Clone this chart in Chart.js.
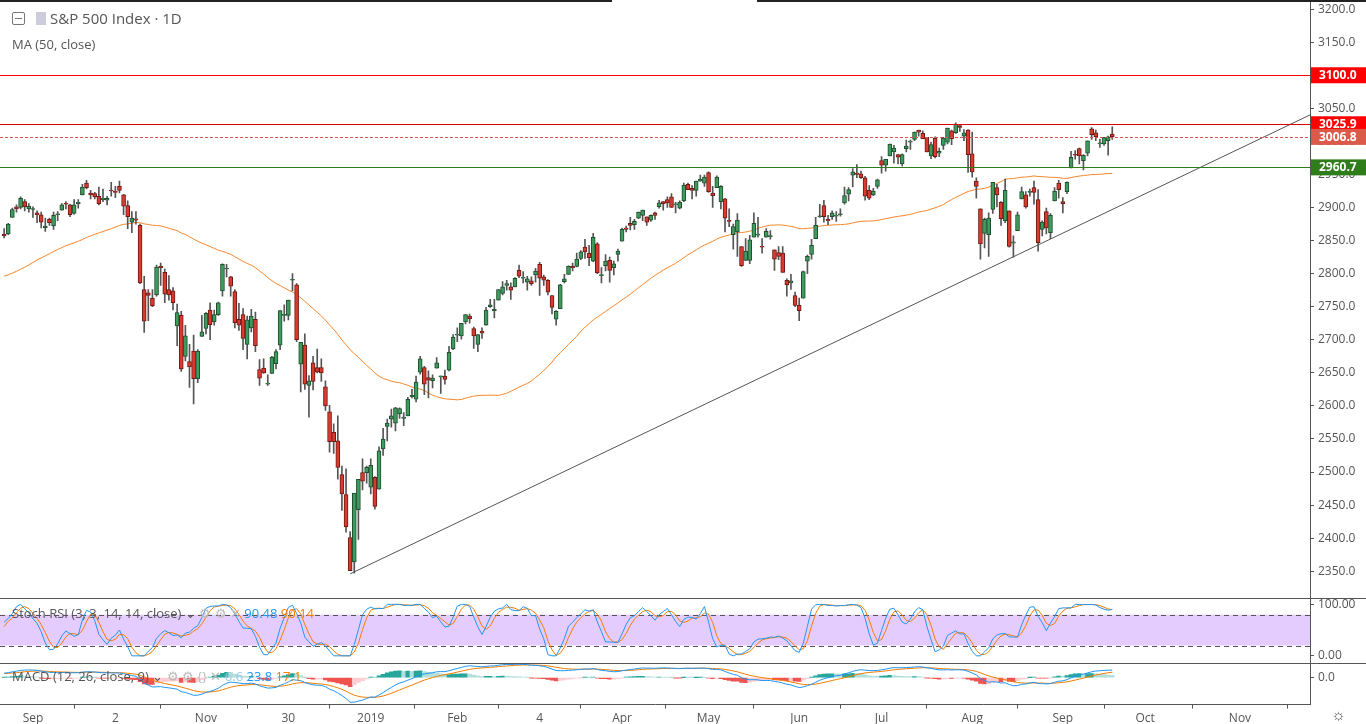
<!DOCTYPE html>
<html><head><meta charset="utf-8">
<script src="https://cdn.jsdelivr.net/npm/chart.js@4"></script>
<style>
body{margin:0;background:#fff;font-family:"Open Sans",sans-serif;overflow:hidden}
#wrap{position:relative;width:1366px;height:724px;overflow:hidden}
canvas{position:absolute;left:0}
.t{position:absolute;white-space:nowrap;color:#555}
</style></head><body>
<div id="wrap">
<canvas id="main" width="1366" height="620" style="top:-10px"></canvas>
<canvas id="stoch" width="1366" height="88" style="top:587px"></canvas>
<canvas id="macd" width="1366" height="77" style="top:652px"></canvas>
<div style="position:absolute;left:0;top:0;width:612px;height:2px;background:#222"></div>
<div style="position:absolute;left:757px;top:0;width:609px;height:2px;background:#222"></div>
<div style="position:absolute;left:12px;top:12px;width:11px;height:11px;border:1px solid #777;border-radius:2px"></div>
<div style="position:absolute;left:15px;top:18px;width:7px;height:1px;background:#777"></div>
<div style="position:absolute;left:36px;top:12px;width:10px;height:13px;background:#ccd"></div>
<div class="t" style="left:50px;top:8px;font-size:15px">S&amp;P 500 Index · 1D</div>
<div class="t" style="left:12px;top:35px;font-size:13px">MA (50, close)</div>
<div class="t" style="left:12px;top:604px;font-size:13px">Stoch RSI (3, 3, 14, 14, close) ⌄ <span style="color:#bbb">⚙ ⚙ ✕</span> <span style="color:#2196f3">90.48</span> <span style="color:#f57c00">90.14</span></div>
<div class="t" style="left:12px;top:667px;font-size:13px">MACD (12, 26, close, 9) ⌄ <span style="color:#bbb">⚙ ⚙ {} ✕</span> <span style="color:#9cc8e6">6.6</span> <span style="color:#2196f3">23.8</span> <span style="color:#f57c00">17.1</span></div>
<div class="t" style="left:1331px;top:703px;font-size:16px">☼</div>
</div>
<script>
// history before first visible bar (closes only, used for indicators)
const preCloses=[2775,2782,2779,2774,2762,2767,2749,2754,2717,2724,2700,2716,2718,2727,2714,2736,2760,2759,2784,2794,2793,2798,2775,2798,2801,2798,2804,2809,2815,2804,2806,2820,2846,2837,2819,2818,2802,2816,2813,2827,2840,2850,2858,2858,2819,2840,2818,2822,2821,2850,2858,2862];
// visible daily bars [open, high, low, close], 2018-08-23 .. 2019-09-19
const ohlc=[
[2860,2868,2854,2857],[2860,2876,2859,2875],[2885,2899,2885,2897],[2901,2904,2893,2898],[2900,2916,2898,2914],[2909,2912,2895,2901],[2898,2906,2893,2902],
[2897,2901,2885,2897],[2892,2895,2877,2889],[2889,2893,2869,2878],[2869,2884,2864,2872],[2882,2884,2873,2877],[2872,2893,2867,2888],[2889,2894,2880,2889],[2896,2906,2896,2904],[2906,2909,2898,2905],[2904,2905,2886,2889],[2891,2912,2890,2904],[2906,2912,2899,2908],[2919,2935,2919,2931],[2937,2941,2928,2930],[2922,2926,2913,2919],[2921,2923,2913,2916],[2917,2931,2904,2906],[2912,2928,2909,2914],[2911,2917,2904,2914],
[2926,2938,2917,2925],[2924,2932,2915,2923],[2932,2940,2922,2926],[2919,2920,2889,2902],[2903,2910,2868,2886],[2878,2894,2862,2884],[2883,2894,2875,2881],[2873,2875,2785,2786],[2776,2796,2711,2728],[2771,2776,2729,2767],[2763,2776,2750,2751],[2768,2813,2766,2810],[2811,2816,2782,2809],[2802,2807,2756,2769],[2776,2797,2760,2768],[2774,2779,2745,2756],[2721,2754,2691,2741],[2737,2743,2652,2656],[2675,2722,2668,2706],[2667,2693,2628,2659],[2683,2707,2603,2641],[2641,2685,2635,2683],[2705,2737,2705,2712],
[2717,2741,2709,2740],[2745,2756,2700,2723],[2727,2745,2722,2738],[2738,2757,2737,2756],[2774,2815,2766,2814],[2807,2814,2795,2807],[2795,2796,2766,2781],[2773,2776,2718,2726],[2731,2755,2714,2722],[2738,2747,2685,2702],[2693,2736,2671,2730],[2718,2746,2712,2736],[2731,2742,2682,2691],[2655,2670,2631,2642],[2657,2671,2649,2650],[2633,2647,2631,2633],[2649,2675,2649,2674],[2664,2685,2656,2682],[2692,2744,2685,2744],[2737,2753,2728,2738],[2737,2760,2730,2760],
[2790,2800,2774,2790],[2783,2785,2697,2700],[2663,2696,2621,2696],[2692,2709,2625,2633],[2631,2646,2583,2638],[2665,2675,2624,2637],[2658,2686,2650,2651],[2658,2671,2637,2650],[2629,2638,2593,2600],[2591,2601,2530,2546],[2560,2573,2528,2546],[2547,2585,2489,2507],[2496,2509,2442,2467],[2466,2505,2409,2417],[2401,2410,2351,2351],[2364,2467,2347,2468],[2443,2489,2398,2489],[2499,2520,2473,2486],[2499,2509,2483,2507],
[2477,2520,2467,2510],[2492,2493,2444,2448],[2474,2538,2474,2532],[2535,2566,2525,2550],[2569,2580,2547,2574],[2580,2595,2568,2585],[2574,2598,2562,2597],[2588,2597,2581,2596],[2581,2590,2570,2583],[2585,2613,2585,2610],[2614,2625,2612,2616],[2610,2645,2606,2636],[2651,2675,2648,2671],[2658,2660,2617,2633],[2643,2653,2612,2639],[2638,2647,2627,2642],[2657,2673,2657,2665],[2644,2645,2619,2644],[2645,2654,2633,2640],[2654,2690,2653,2681],[2686,2708,2685,2704],
[2707,2718,2697,2707],[2706,2725,2701,2725],[2727,2738,2724,2738],[2736,2739,2725,2732],[2717,2719,2687,2706],[2693,2708,2682,2708],[2713,2718,2702,2710],[2722,2749,2722,2745],[2750,2761,2749,2753],[2744,2761,2733,2746],[2760,2776,2760,2776],[2770,2788,2768,2780],[2782,2790,2775,2785],[2780,2786,2761,2775],[2780,2794,2780,2793],[2805,2813,2794,2796],[2793,2803,2786,2794],[2787,2796,2775,2792],[2789,2795,2782,2785],
[2798,2808,2787,2804],[2814,2817,2767,2793],[2795,2798,2782,2790],[2790,2791,2768,2772],[2767,2767,2739,2749],[2731,2744,2722,2743],[2747,2784,2747,2783],[2788,2799,2786,2792],[2799,2812,2799,2811],[2811,2816,2804,2809],[2811,2831,2810,2822],[2823,2835,2821,2833],[2840,2852,2823,2833],[2831,2843,2812,2824],[2819,2861,2818,2855],[2845,2847,2800,2801],[2797,2809,2786,2798],[2812,2829,2804,2819],[2820,2825,2787,2805],[2809,2819,2798,2815],[2829,2837,2819,2834],
[2849,2869,2849,2867],[2869,2872,2863,2867],[2876,2885,2866,2873],[2874,2882,2867,2879],[2884,2893,2883,2893],[2888,2896,2880,2896],[2886,2886,2873,2878],[2881,2889,2879,2888],[2892,2893,2882,2888],[2901,2911,2899,2907],[2909,2909,2896,2906],[2912,2916,2900,2907],[2916,2921,2900,2900],[2904,2908,2892,2905],[2899,2910,2898,2908],[2910,2937,2909,2934],[2935,2937,2927,2927],[2929,2933,2913,2926],[2926,2940,2917,2940],[2940,2949,2940,2943],[2937,2949,2932,2946],
[2953,2954,2923,2924],[2922,2932,2900,2918],[2930,2948,2930,2946],[2909,2933,2898,2932],[2913,2914,2863,2884],[2880,2898,2871,2879],[2859,2875,2837,2871],[2863,2891,2826,2881],[2841,2841,2811,2812],[2820,2853,2820,2834],[2820,2858,2815,2851],[2855,2892,2855,2876],[2858,2885,2855,2860],[2841,2853,2831,2840],[2855,2868,2855,2864],[2856,2865,2852,2856],[2836,2836,2805,2822],[2832,2841,2821,2826],[2831,2841,2802,2802],[2790,2792,2766,2783],[2786,2799,2776,2789],[2767,2772,2750,2752],
[2752,2763,2729,2744],[2763,2804,2763,2803],[2819,2828,2800,2826],[2829,2852,2822,2843],[2853,2885,2853,2873],[2886,2905,2885,2887],[2903,2911,2878,2886],[2882,2888,2874,2880],[2886,2895,2882,2892],[2887,2894,2879,2887],[2889,2898,2887,2890],[2907,2931,2905,2918],[2920,2930,2910,2927],[2949,2959,2931,2954],[2952,2965,2945,2950],[2951,2955,2944,2945],[2945,2947,2911,2917],[2926,2933,2912,2914],[2919,2929,2918,2925],[2932,2943,2929,2942],
[2971,2977,2952,2964],[2964,2973,2955,2973],[2978,2996,2978,2996],[2984,2994,2967,2990],[2980,2980,2966,2976],[2966,2981,2963,2980],[2989,3002,2984,2993],[2999,3002,2988,3000],[3003,3014,3001,3014],[3017,3017,3008,3014],[3012,3016,3004,3004],[3006,3006,2984,2984],[2978,2999,2974,2995],[3005,3007,2975,2977],[2982,2990,2977,2985],[2994,3006,2988,3005],[2999,3020,2996,3020],[3016,3017,2995,3004],[3013,3028,3012,3026],[3024,3025,3015,3021],[3008,3018,3001,3013],[3017,3018,2953,2980],
[2981,3014,2946,2954],[2940,2945,2914,2932],[2898,2898,2822,2845],[2861,2884,2839,2882],[2859,2892,2826,2884],[2897,2938,2891,2938],[2930,2935,2901,2919],[2908,2909,2873,2883],[2880,2943,2877,2926],[2895,2895,2840,2841],[2846,2857,2825,2848],[2865,2893,2865,2889],[2913,2931,2913,2924],[2919,2924,2899,2901],[2923,2928,2917,2924],[2930,2940,2905,2923],[2912,2927,2834,2847],[2867,2880,2857,2878],[2894,2899,2860,2869],[2862,2891,2853,2888],[2910,2930,2910,2925],[2937,2941,2914,2927],
[2909,2915,2892,2906],[2924,2939,2921,2938],[2960,2985,2960,2976],[2980,2986,2973,2979],[2989,2990,2966,2978],[2971,2980,2957,2979],[2982,3001,2978,3001],[3019,3021,3003,3010],[3013,3017,3001,3007],[2996,3003,2991,2998],[2996,3006,2994,3006],[3001,3008,2979,3007],[3011,3022,3003,3007]
];
// horizontal levels
const levelValues=[3100,3025.9,3006.8,2960.7];
const levelColors=['#ff0000','#e00000','#d9534f','#2e7d1a'];
const levelDotted=[false,false,true,false];
const levelLabels=['3100.0','3025.9','3006.8','2960.7'];
const levelBoxColors=['#ff0000','#ff0000','#dc5a4a','#2e7d1a'];
// trend line endpoints [barIndex, price]
const trendLine=[[84,2346],[317,3040]];
// x-axis tick labels at bar indices
const xTickIdx=[7,27,49,69,89,110,130,150,171,193,213,235,257,277,300];
const xTickLabels=['Sep','2','Nov','30','2019','Feb','4','Apr','May','Jun','Jul','Aug','Sep','Oct','Nov'];
const priceTicks=[];for(let v=2350;v<=3200;v+=50)priceTicks.push(v);

const XMIN=-1,XMAX=317,AXW=56;
const closes=preCloses.concat(ohlc.map(b=>b[3]));
const off=preCloses.length;
function sma(a,n){return a.map((v,i)=>{if(i<n-1)return null;let s=0;for(let j=i-n+1;j<=i;j++)s+=a[j];return s/n;});}
function ema(a,n){const k=2/(n+1);let e=a[0];return a.map((v,i)=>{e=i?v*k+e*(1-k):v;return e;});}
const ma50=sma(closes,50);
const rsi=[];let ag=0,al=0;
for(let i=1;i<closes.length;i++){const d=closes[i]-closes[i-1];const g=Math.max(d,0),l=Math.max(-d,0);
 if(i<=14){ag+=g/14;al+=l/14;} else {ag=(ag*13+g)/14;al=(al*13+l)/14;}
 rsi[i]=i>=14?(al===0?100:100-100/(1+ag/al)):null;}
const st=rsi.map((v,i)=>{if(v==null||i<27)return null;let mn=1e9,mx=-1e9;for(let j=i-13;j<=i;j++){mn=Math.min(mn,rsi[j]);mx=Math.max(mx,rsi[j]);}return mx===mn?50:(v-mn)/(mx-mn)*100;});
function smaN(a,n){return a.map((v,i)=>{let s=0;for(let j=i-n+1;j<=i;j++){if(a[j]==null)return null;s+=a[j];}return s/n;});}
const K=smaN(st,3),D=smaN(K,3);
const e12=ema(closes,12),e26=ema(closes,26);
const macd=closes.map((c,i)=>e12[i]-e26[i]);
const sig=ema(macd,9);
const hist=macd.map((m,i)=>m-sig[i]);

const vis=(arr)=>ohlc.map((b,i)=>({x:i,y:arr[i+off]}));
const up=b=>b[3]>=b[0];
Chart.defaults.font.family='"Open Sans",sans-serif';
Chart.defaults.font.size=12;
Chart.defaults.color='#555';
Chart.defaults.animation=false;
const xHidden={type:'linear',min:XMIN,max:XMAX,display:false,offset:false};
const yRight=(extra)=>Object.assign({position:'right',afterFit:s=>{s.width=AXW;},
  grid:{drawOnChartArea:false,tickLength:4,color:'#555'},border:{color:'#555'},ticks:{color:'#555',padding:4}},extra);
const common={responsive:false,maintainAspectRatio:false,devicePixelRatio:1,layout:{padding:{top:10,bottom:13,left:0,right:0},autoPadding:false},
  plugins:{legend:{display:false},tooltip:{enabled:false}}};
const sepLine=(c)=>{const ctx=c.ctx;ctx.save();ctx.fillStyle='#555';ctx.fillRect(0,Math.round(c.chartArea.top),c.width,1);ctx.restore();};

const levelPlugin={id:'levels',afterDatasetsDraw(c){const ctx=c.ctx,y=c.scales.y,a=c.chartArea;
 levelValues.forEach((v,i)=>{const p=Math.round(y.getPixelForValue(v));ctx.save();ctx.fillStyle=levelColors[i];
  if(levelDotted[i]){for(let x=a.left;x<a.right;x+=5)ctx.fillRect(x,p,3,1);} else ctx.fillRect(a.left,p,a.right-a.left,1);ctx.restore();});
 levelValues.forEach((v,i)=>{const p=y.getPixelForValue(v);ctx.save();ctx.fillStyle=levelBoxColors[i];ctx.fillRect(a.right+1,p-8,AXW,16);
  ctx.fillStyle='#fff';ctx.font='bold 12px "Open Sans",sans-serif';ctx.textBaseline='middle';ctx.fillText(levelLabels[i],a.right+9,p+0.5);ctx.restore();});
}};

new Chart(document.getElementById('main'),{type:'line',plugins:[levelPlugin],
 data:{datasets:[
  {type:'line',data:vis(ma50),borderColor:'#f7862a',borderWidth:1,pointRadius:0,order:3},
  {type:'line',data:trendLine.map(p=>({x:p[0],y:p[1]})),borderColor:'#555',borderWidth:1,pointRadius:0,order:4},
  {type:'bar',data:ohlc.map((b,i)=>({x:i,y:[b[2],b[1]]})),backgroundColor:'#555',barThickness:1,grouped:false,order:2},
  {type:'bar',data:ohlc.map((b,i)=>({x:i,y:[b[0],b[3]]})),backgroundColor:ohlc.map(b=>up(b)?'#3f9a5e':'#d93a2f'),
   borderColor:ohlc.map(b=>up(b)?'#1f4d2e':'#6e1a14'),borderWidth:1,borderSkipped:false,barThickness:4,grouped:false,order:1,minBarLength:1}
 ]},
 options:Object.assign({},common,{scales:{x:xHidden,
  y:yRight({min:2311,max:3212,afterBuildTicks:s=>{s.ticks=priceTicks.map(v=>({value:v}));},ticks:{color:'#555',padding:4,callback:v=>v.toFixed(1)}})}})
});

const bandPlugin={id:'band',beforeDatasetsDraw(c){const ctx=c.ctx,y=c.scales.y,a=c.chartArea;const t=y.getPixelForValue(80),b=y.getPixelForValue(20);
 ctx.save();ctx.fillStyle='rgba(204,153,255,0.5)';ctx.fillRect(a.left,t,a.right-a.left,b-t);ctx.fillStyle='#555';
 [t,b].forEach(p=>{for(let x=a.left;x<a.right;x+=9)ctx.fillRect(x,Math.round(p),5,1);});ctx.restore();},
 afterDraw(c){sepLine(c);}};
new Chart(document.getElementById('stoch'),{type:'line',plugins:[bandPlugin],
 data:{datasets:[
  {data:vis(K),borderColor:'#2196f3',borderWidth:1,pointRadius:0},
  {data:vis(D),borderColor:'#f57c00',borderWidth:1,pointRadius:0}]},
 options:Object.assign({},common,{scales:{x:xHidden,
  y:yRight({min:-12,max:112,afterBuildTicks:s=>{s.ticks=[{value:0},{value:100}];},ticks:{color:'#555',padding:4,callback:v=>v.toFixed(2)}})}})
});

const mv=macd.slice(off).concat(sig.slice(off)).concat(hist.slice(off));
const kk=Math.max(Math.max(...mv)/13,-Math.min(...mv)/25);
const sepPlugin={id:'sep',afterDraw(c){sepLine(c);}};
new Chart(document.getElementById('macd'),{type:'line',plugins:[sepPlugin],
 data:{datasets:[
  {type:'line',data:vis(macd),borderColor:'#2196f3',borderWidth:1,pointRadius:0,order:1},
  {type:'line',data:vis(sig),borderColor:'#f57c00',borderWidth:1,pointRadius:0,order:2},
  {type:'bar',data:vis(hist),backgroundColor:ohlc.map((b,i)=>{const j=i+off,h=hist[j],p=hist[j-1];return h>=0?(h>=p?'#26a69a':'#b2dfdb'):(h<p?'#ef5350':'#ffcdd2');}),barThickness:4,grouped:false,order:3}
 ]},
 options:Object.assign({},common,{layout:{padding:{top:10,bottom:0,left:0,right:0},autoPadding:false},scales:{
  x:{type:'linear',min:XMIN,max:XMAX,offset:false,afterBuildTicks:s=>{s.ticks=xTickIdx.map(v=>({value:v}));},
   ticks:{color:'#555',autoSkip:false,maxRotation:0,padding:3,callback:(v)=>{const k=xTickIdx.indexOf(v);return k>=0?xTickLabels[k]:'';}},
   grid:{drawOnChartArea:false,tickLength:4,color:'#555'},border:{color:'#555'}},
  y:yRight({min:-26*kk,max:14*kk,afterBuildTicks:s=>{s.ticks=[{value:0}];},ticks:{color:'#555',padding:4,callback:v=>v.toFixed(1)}})}})
});
</script></body></html>
